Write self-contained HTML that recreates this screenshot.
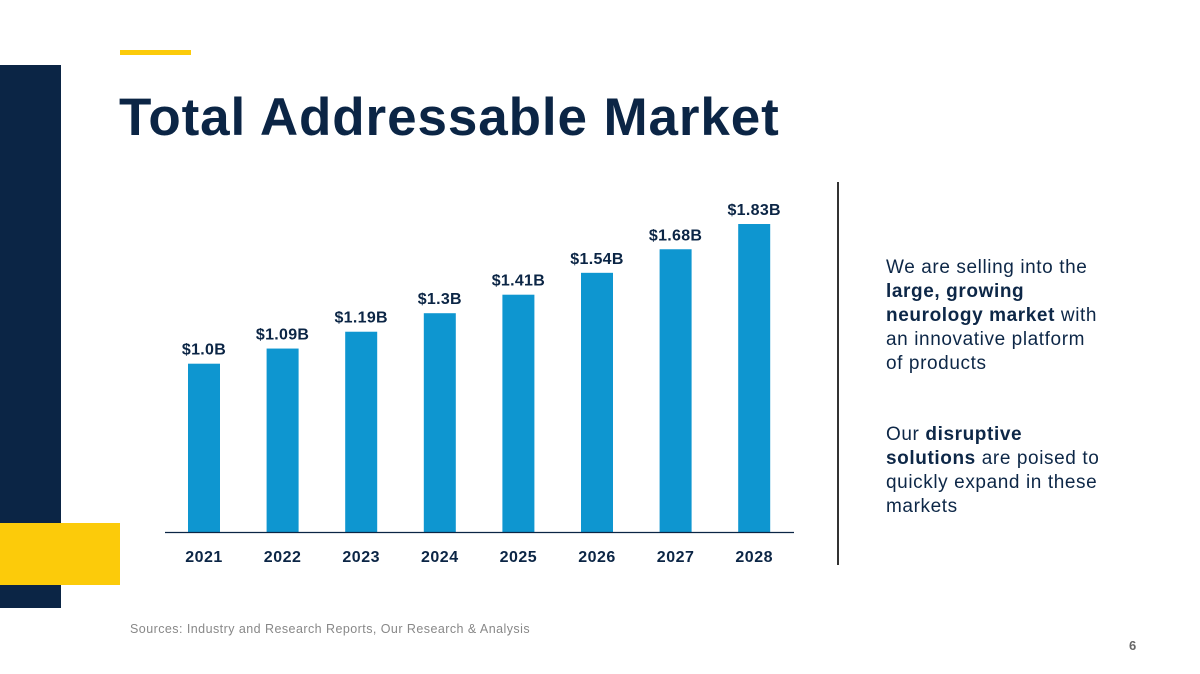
<!DOCTYPE html>
<html><head><meta charset="utf-8"><style>
body{margin:0;width:1200px;height:674px;background:#fff;position:relative;overflow:hidden;font-family:"Liberation Sans",sans-serif;}
.abs{position:absolute}
.rt{font-size:19px;line-height:24px;color:#0d2747;letter-spacing:0.6px;white-space:nowrap}
.rt b{font-weight:bold}
</style></head><body>
<div class="abs" style="left:0;top:65px;width:61px;height:543px;background:#0b2545"></div>
<div class="abs" style="left:0;top:523px;width:120px;height:62px;background:#fccb0a"></div>
<div class="abs" style="left:120px;top:50px;width:71px;height:5px;background:#fccb0a"></div>
<div class="abs" style="left:119px;top:87px;font-size:53px;font-weight:bold;color:#0b2545;letter-spacing:0.9px;white-space:nowrap">Total Addressable Market</div>
<svg class="abs" style="left:0;top:0" width="1200" height="674" id="chart"></svg>
<div class="abs" style="left:837px;top:182px;width:2px;height:383px;background:#333"></div>
<div class="abs rt" style="left:886px;top:256px">We are selling into the<br><b>large, growing</b><br><b>neurology market</b> with<br>an innovative platform<br>of products</div>
<div class="abs rt" style="left:886px;top:423px">Our <b>disruptive</b><br><b>solutions</b> are poised to<br>quickly expand in these<br>markets</div>
<div class="abs" style="left:130px;top:622px;font-size:12.5px;color:#888;letter-spacing:0.45px;white-space:nowrap">Sources: Industry and Research Reports, Our Research &amp; Analysis</div>
<div class="abs" style="left:1129px;top:638px;font-size:13px;font-weight:bold;color:#666">6</div>
<script>
const categories=["2021","2022","2023","2024","2025","2026","2027","2028"];
const values=[1.0,1.09,1.19,1.3,1.41,1.54,1.68,1.83];
const valueLabels=["$1.0B","$1.09B","$1.19B","$1.3B","$1.41B","$1.54B","$1.68B","$1.83B"];
const svg=document.getElementById('chart');
const NS='http://www.w3.org/2000/svg';
const base=532, pxPerUnit=168.3, x0=204, step=78.6, bw=32;
const xs=i=>x0+i*step, ys=v=>base-v*pxPerUnit;
function mk(t,a){const e=document.createElementNS(NS,t);for(const k in a)e.setAttribute(k,a[k]);svg.appendChild(e);return e;}
categories.forEach((c,i)=>{
 const r=mk('rect',{x:xs(i)-bw/2,y:ys(values[i]),width:bw,height:base-ys(values[i]),fill:'#0e96d0'});
 
 
 const l=mk('text',{x:xs(i),y:ys(values[i])-9,'text-anchor':'middle','font-size':'16','font-weight':'bold',fill:'#0b2545','font-family':'Liberation Sans, sans-serif','letter-spacing':'0.3'});
 l.textContent=valueLabels[i];
 
 
 const t=mk('text',{x:xs(i),y:562,'text-anchor':'middle','font-size':'16','font-weight':'bold',fill:'#0b2545','font-family':'Liberation Sans, sans-serif','letter-spacing':'0.5'});
 t.textContent=c;
 
 
});
const ax=mk('line',{x1:165,x2:794,y1:base+0.5,y2:base+0.5,stroke:'#0b2545','stroke-width':1.2});


</script>
</body></html>
